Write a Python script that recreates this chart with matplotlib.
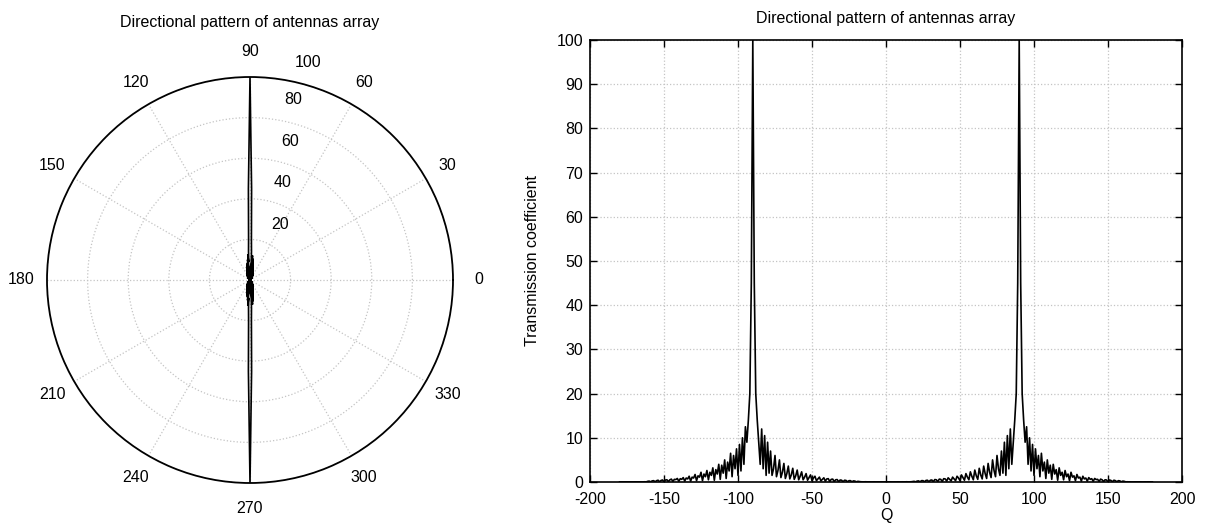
import numpy as np
import matplotlib
matplotlib.use("Agg")
import matplotlib.pyplot as plt

plt.rcParams['font.family'] = ['Liberation Sans', 'DejaVu Sans']
plt.rcParams['font.size'] = 11.5
plt.rcParams['axes.unicode_minus'] = False

# Transmission coefficient for angles 0..180 deg (1 deg step); the pattern is
# symmetric, so negative angles reuse these samples.
gain_0_17 = [0.02, 0.03, 0.02, 0.04, 0.02, 0.03, 0.03, 0.02, 0.04, 0.03,
             0.02, 0.04, 0.03, 0.03, 0.05, 0.03, 0.04, 0.05]
gain_18_89 = [0.10, 0.15, 0.03, 0.20, 0.25, 0.04, 0.30, 0.30, 0.05, 0.35,
              0.40, 0.06, 0.40, 0.45, 0.08, 0.55, 0.50, 0.10, 0.65, 0.60,
              0.12, 0.75, 0.70, 0.20, 0.95, 0.60, 0.25, 1.10, 0.70, 0.30,
              1.30, 0.90, 0.30, 1.60, 1.00, 0.40, 1.90, 1.10, 0.50, 2.30,
              1.30, 0.50, 2.70, 1.40, 0.60, 3.10, 1.60, 0.70, 3.60, 1.90,
              0.80, 4.20, 2.20, 1.00, 5.00, 2.60, 1.20, 6.00, 3.00, 1.50,
              7.00, 2.00, 9.00, 1.50, 10.5, 3.00, 12.0, 4.00, 9.00, 14.0,
              20.0, 45.0]
gain_90 = [100.0]
gain_91_180 = [45.0, 20.0, 14.0, 9.0, 12.5, 4.0, 10.0, 2.5, 8.5, 1.5,
               7.5, 3.0, 6.0, 1.2, 6.5, 2.5, 4.5, 0.8, 5.0, 2.0,
               3.8, 0.6, 4.0, 1.8, 2.8, 0.4, 3.2, 1.5, 2.2, 0.5,
               2.6, 1.2, 1.8, 0.3, 2.2, 1.1, 1.4, 0.3, 1.7, 0.9,
               1.1, 0.2, 1.3, 0.7, 0.9, 0.2, 1.0, 0.6, 0.75, 0.15,
               0.8, 0.55, 0.6, 0.12, 0.65, 0.5, 0.1, 0.5, 0.45, 0.08,
               0.45, 0.35, 0.06, 0.4, 0.3, 0.05, 0.3, 0.25, 0.04, 0.2,
               0.15, 0.03,
               0.05, 0.03, 0.04, 0.02, 0.03, 0.04, 0.03, 0.02, 0.03, 0.04,
               0.02, 0.03, 0.03, 0.02, 0.04, 0.03, 0.02, 0.02]

half = np.array(gain_0_17 + gain_18_89 + gain_90 + gain_91_180)
theta_deg = np.arange(-180, 181)
gain = np.concatenate([half[:0:-1], half])

title_text = "Directional pattern of antennas array"
r_ticks = [20, 40, 60, 80, 100]
theta_ticks = list(range(0, 360, 30))
x_ticks = list(range(-200, 201, 50))
y_ticks = list(range(0, 101, 10))

W, H = 1207, 523
fig = plt.figure(figsize=(W / 100, H / 100), dpi=100)

grid_kw = dict(color='#c4c4c4', linestyle=':', linewidth=0.9)

# ---- polar pattern ----
axp = fig.add_axes([47 / W, 1 - 483 / H, 406 / W, 406 / H], projection='polar')
axp.plot(np.deg2rad(theta_deg), gain, color='black', linewidth=1.2)
axp.set_ylim(0, 100)
axp.set_rgrids(r_ticks)
axp.set_yticklabels([])
axp.set_thetagrids(theta_ticks, [''] * len(theta_ticks))
axp.grid(True, **grid_kw)
axp.spines['polar'].set_color('black')
axp.spines['polar'].set_linewidth(1.3)

# angle labels on a ring just outside the outer circle
for t in theta_ticks:
    axp.text(np.deg2rad(t), 112.5, str(t), ha='center', va='center',
             clip_on=False, fontsize=11.5)

r_label_pos = {20: (61.4, 30.9), 40: (71.2, 50.5), 60: (73.8, 70.8),
               80: (76.6, 91.2), 100: (75.0, 111.0)}
for r in r_ticks:
    ang, rad = r_label_pos[r]
    axp.text(np.deg2rad(ang), rad, str(r), ha='center', va='center',
             clip_on=False, fontsize=11.5)

fig.text(250 / W, 1 - 22 / H, title_text, ha='center', va='center', fontsize=11.5)

# ---- cartesian pattern ----
axc = fig.add_axes([590 / W, 1 - 482 / H, 592 / W, 442 / H])
axc.plot(theta_deg, gain, color='black', linewidth=1.2)
axc.set_xlim(-200, 200)
axc.set_ylim(0, 100)
axc.set_xticks(x_ticks)
axc.set_yticks(y_ticks)
axc.grid(True, **grid_kw)
axc.tick_params(direction='in', top=True, right=True, length=5, width=1,
                labelsize=11.5)
axc.tick_params(axis='x', pad=7)
axc.tick_params(axis='y', pad=5)
for s in axc.spines.values():
    s.set_linewidth(1.2)
axc.set_xlabel("Q", fontsize=11.5, labelpad=1)
axc.set_ylabel("Transmission coefficient", fontsize=11.5, labelpad=12)
fig.text(886 / W, 1 - 18 / H, title_text, ha='center', va='center', fontsize=11.5)

fig.savefig("out.png", dpi=100)
